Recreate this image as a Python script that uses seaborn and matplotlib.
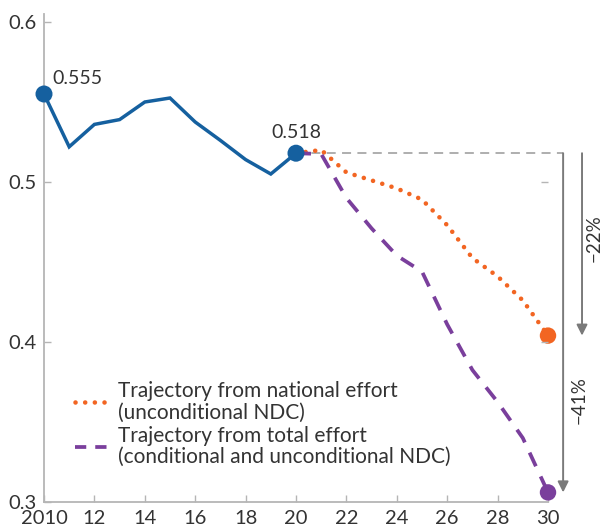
import numpy as np
import pandas as pd
import seaborn as sns
import matplotlib.pyplot as plt
from matplotlib.lines import Line2D

sns.set_theme(style="ticks")
plt.rcParams['font.family'] = ['Lato', 'DejaVu Sans']

# Historical carbon intensity, 2010-2020
years_hist = [2010, 2011, 2012, 2013, 2014, 2015, 2016, 2017, 2018, 2019, 2020]
intensity_hist = [0.555, 0.522, 0.536, 0.539, 0.550, 0.5525, 0.5375, 0.526, 0.514, 0.505, 0.518]

# Projected trajectories, 2020-2030
years_proj = [2020, 2021, 2022, 2023, 2024, 2025, 2026, 2027, 2028, 2029, 2030]
national_effort = [0.518, 0.520, 0.506, 0.501, 0.496, 0.489, 0.473, 0.4525, 0.441, 0.426, 0.404]
total_effort = [0.518, 0.5175, 0.490, 0.471, 0.454, 0.444, 0.411, 0.3825, 0.3625, 0.340, 0.306]

reductions = ["\u221222%", "\u221241%"]
legend_labels = ["Trajectory from national effort\n(unconditional NDC)",
                 "Trajectory from total effort\n(conditional and unconditional NDC)"]
x_ticks = [2010, 2012, 2014, 2016, 2018, 2020, 2022, 2024, 2026, 2028, 2030]
x_ticklabels = ["2010", "12", "14", "16", "18", "20", "22", "24", "26", "28", "30"]
y_ticks = [0.3, 0.4, 0.5, 0.6]

BLUE = "#15609f"
ORANGE = "#f26522"
PURPLE = "#7a3f9c"
AXIS_GREY = "#b5b5b5"
ARROW_GREY = "#7a7a7a"
TEXT = "#333333"

fig = plt.figure(figsize=(6.03, 5.31), dpi=100)
ax = fig.add_axes([44 / 603, 1 - 502 / 531, 504 / 603, 488 / 531])

hist = pd.DataFrame({"year": years_hist, "value": intensity_hist})
proj = pd.DataFrame({"year": years_proj, "national": national_effort, "total": total_effort})

sns.lineplot(data=hist, x="year", y="value", ax=ax, color=BLUE, linewidth=2.5,
             solid_joinstyle="miter")
sns.lineplot(data=proj, x="year", y="national", ax=ax, color=ORANGE, linewidth=3.3,
             linestyle=(0, (0.01, 2.1)), dash_capstyle="round")
sns.lineplot(data=proj, x="year", y="total", ax=ax, color=PURPLE, linewidth=2.7,
             linestyle=(0, (4.0, 3.0)))

# End-point markers
ends_hist = hist.iloc[[0, -1]]
sns.scatterplot(data=ends_hist, x="year", y="value", ax=ax, color=BLUE, s=150,
                edgecolor="none", zorder=5, clip_on=False)
sns.scatterplot(x=[years_proj[-1]], y=[national_effort[-1]], ax=ax, color=ORANGE,
                s=140, edgecolor="none", zorder=5, clip_on=False)
sns.scatterplot(x=[years_proj[-1]], y=[total_effort[-1]], ax=ax, color=PURPLE,
                s=140, edgecolor="none", zorder=5, clip_on=False)

# Value labels
ax.annotate(f"{intensity_hist[0]:.3f}", xy=(years_hist[0], intensity_hist[0]),
            xytext=(6, 11), textcoords="offset points", ha="left", va="center",
            fontsize=14, color=TEXT)
ax.annotate(f"{intensity_hist[-1]:.3f}", xy=(years_hist[-1], intensity_hist[-1]),
            xytext=(0, 15), textcoords="offset points", ha="center", va="center",
            fontsize=14, color=TEXT)

# Reference line at 2020 level and reduction arrows
x_ref41 = 2030.6
x_ref22 = 2031.35
base = intensity_hist[-1]
ax.plot([years_hist[-1], x_ref41], [base, base], color="#a8a8a8", linewidth=1.3,
        linestyle=(0, (5, 3.5)), clip_on=False, zorder=1)
ax.annotate("", xy=(x_ref41, total_effort[-1]), xytext=(x_ref41, base),
            arrowprops=dict(arrowstyle="-|>", color=ARROW_GREY, lw=1.4,
                            mutation_scale=16, shrinkA=0, shrinkB=0),
            annotation_clip=False)
ax.annotate("", xy=(x_ref22, national_effort[-1]), xytext=(x_ref22, base),
            arrowprops=dict(arrowstyle="-|>", color=ARROW_GREY, lw=1.4,
                            mutation_scale=16, shrinkA=0, shrinkB=0),
            annotation_clip=False)
ax.text(2031.85, 0.465, reductions[0], rotation=90, ha="center", va="center",
        fontsize=13.5, color=TEXT, clip_on=False)
ax.text(2031.25, 0.364, reductions[1], rotation=90, ha="center", va="center",
        fontsize=13.5, color=TEXT, clip_on=False)

# Legend
handles = [
    Line2D([], [], color=ORANGE, linewidth=3.3, linestyle=(0, (0.01, 2.1)),
           dash_capstyle="round"),
    Line2D([], [], color=PURPLE, linewidth=2.7, linestyle=(0, (3.0, 2.4))),
]
leg = ax.legend(handles, legend_labels, loc="upper left", bbox_to_anchor=(0.062, 0.248),
                frameon=False, fontsize=15, handlelength=1.75, handletextpad=0.3,
                labelspacing=0.15, borderpad=0, borderaxespad=0, labelcolor=TEXT)
for t in leg.get_texts():
    t.set_linespacing(1.1)

# Axes styling
ax.set_xlim(2010, 2030)
ax.set_ylim(0.3, 0.605)
ax.set_xticks(x_ticks)
ax.set_xticklabels(x_ticklabels)
ax.set_yticks(y_ticks)
ax.set_yticklabels([f"{v:.1f}" for v in y_ticks])
ax.set_xlabel("")
ax.set_ylabel("")
for side in ("top", "right"):
    ax.spines[side].set_visible(False)
for side in ("left", "bottom"):
    ax.spines[side].set_color(AXIS_GREY)
    ax.spines[side].set_linewidth(1.3)
ax.tick_params(axis="both", direction="in", length=5, width=1, color=AXIS_GREY,
               labelsize=14.5, labelcolor=TEXT)
ax.tick_params(axis="y", pad=5)
ax.tick_params(axis="x", pad=6)

# Inner ticks on the right edge
ax_r = ax.twinx()
ax_r.set_ylim(ax.get_ylim())
ax_r.set_yticks([0.4, 0.5])
ax_r.set_yticklabels([])
for s in ax_r.spines.values():
    s.set_visible(False)
ax_r.tick_params(axis="y", direction="in", length=5, width=1, color=AXIS_GREY)

fig.savefig("out.png", dpi=100)
